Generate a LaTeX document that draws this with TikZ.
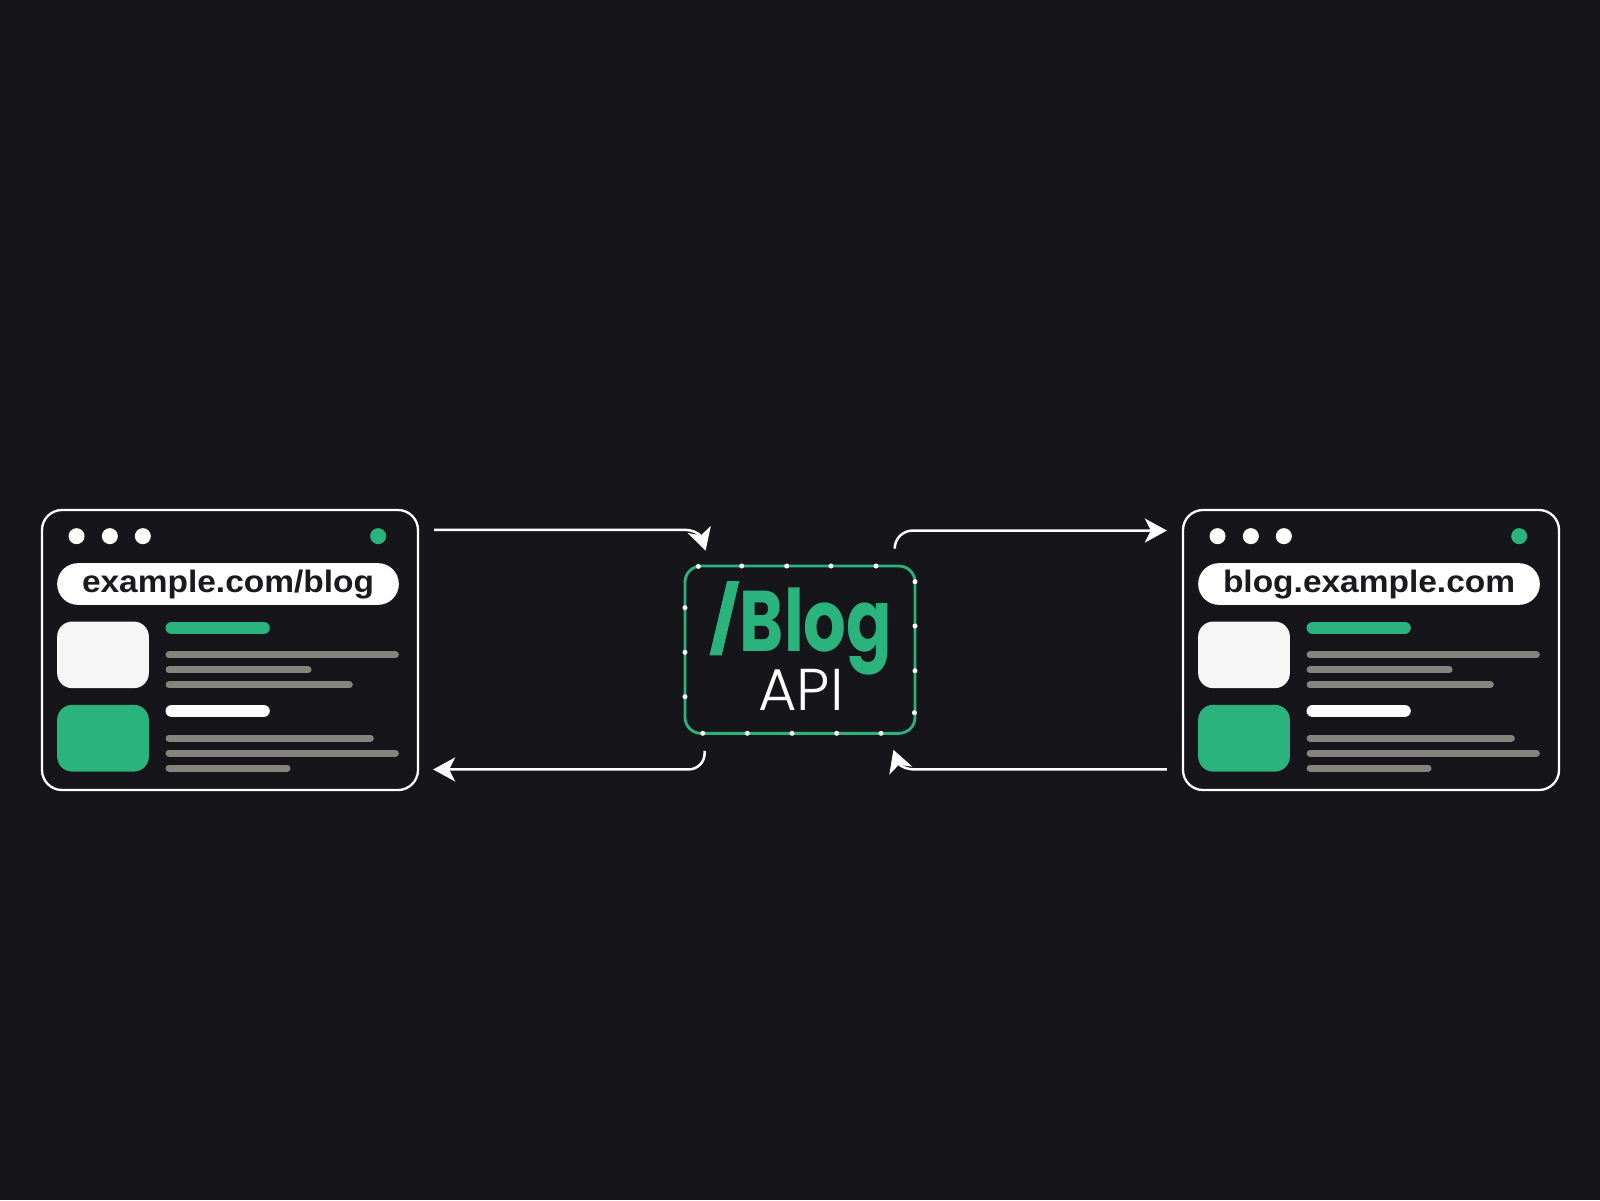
\documentclass[tikz,border=0pt]{standalone}
\usepackage{fontspec}
\usetikzlibrary{arrows.meta,calc,bending}
\setmainfont{Liberation Sans}
\newfontfamily\urlfont{Liberation Sans}
\newfontfamily\blogfont{Poppins}
\newfontfamily\slashfont[FakeBold=2.5]{Poppins}
\IfFontExistsTF{Poppins Light}{\newfontfamily\apifont{Poppins Light}}{\newfontfamily\apifont{Poppins}}
\definecolor{bg}{HTML}{16161A}
\definecolor{brandgreen}{HTML}{2BB37D}
\definecolor{linegray}{HTML}{85847E}
\definecolor{paper}{HTML}{F7F7F7}
\definecolor{ink}{HTML}{1A1A1E}
\tikzset{
  frame/.style={draw=white, line width=2.3pt, rounded corners=20pt, fill=bg, inner sep=0pt},
  apibox/.style={draw=brandgreen, line width=2.8pt, rounded corners=16pt, inner sep=0pt},
  bdot/.style={circle, fill=white, inner sep=0pt, minimum size=5pt},
  flow/.style={draw=white, line width=2.5pt, -{Stealth[length=22pt,width=24pt,inset=6pt]}},
  gline/.style={draw=linegray, line width=7pt, line cap=round},
  urltext/.style={font=\urlfont\bfseries\fontsize{31}{31}\selectfont, text=ink, inner sep=0pt}
}
\newcommand{\mybrowser}[3]{%
  % #1 node name, #2 center x, #3 url
  \node[frame, minimum width=376pt, minimum height=280pt] (#1) at (#2,650) {};
  \begin{scope}[shift={($(#1.north west)$)}]
    \fill[white] (35.7,27.3) circle (8);
    \fill[white] (69,27.3) circle (8);
    \fill[white] (102,27.3) circle (8);
    \fill[brandgreen] (337.3,27.3) circle (8);
    \fill[white, rounded corners=20.8pt] (16.3,54.3) rectangle (358,96);
    \node[urltext] (#1url) at (187.2,76) {\scalebox{1.08}[1]{#3}};
    \fill[paper, rounded corners=15pt] (16.3,112.7) rectangle (108,179.3);
    \fill[brandgreen, rounded corners=15pt] (16.3,196) rectangle (108,262.7);
    \draw[brandgreen, line width=12.7pt, line cap=round] (131,119) -- (222.6,119);
    \draw[gline] (128.2,146) -- (354.5,146);
    \draw[gline] (128.2,161) -- (267.2,161);
    \draw[gline] (128.2,176) -- (308.5,176);
    \draw[white, line width=12.7pt, line cap=round] (131,202) -- (222.6,202);
    \draw[gline] (128.2,229.3) -- (329.5,229.3);
    \draw[gline] (128.2,244.3) -- (354.5,244.3);
    \draw[gline] (128.2,259.3) -- (246.2,259.3);
  \end{scope}
}
\begin{document}
\begin{tikzpicture}[x=1pt,y=-1pt]
\fill[bg] (0,0) rectangle (1600,1200);
\useasboundingbox (0,0) rectangle (1600,1200);

\mybrowser{L}{230}{example.com/blog}
\mybrowser{R}{1371}{blog.example.com}

% center API box
\node[apibox, minimum width=230pt, minimum height=167.3pt] (api) at (800,649.7) {};
\foreach \px in {741.7,786.7,831,876} \node[bdot] at (\px,566) {};
\node[bdot] at (698.3,566.4) {};
\foreach \px in {702.7,747.3,792,836.7,881} \node[bdot] at (\px,733.3) {};
\foreach \py in {581.7,626,670.7} \node[bdot] at (915,\py) {};
\node[bdot] at (914.4,712.7) {};
\foreach \py in {607.7,652.3,696.7} \node[bdot] at (685,\py) {};

\node[anchor=base, text=brandgreen, inner sep=0pt, font=\blogfont\bfseries\fontsize{86}{86}\selectfont] (blog) at (801,651.7) {\raisebox{9pt}{\slashfont\bfseries\fontsize{64}{64}\selectfont/}\hspace{1pt}\scalebox{0.78}[1]{Blog}};
\node[anchor=base, text=white, inner sep=0pt, font=\apifont\fontsize{59}{59}\selectfont] (apitext) at (801,710) {API};

% connectors
\coordinate (a1s) at ($(L.north east)+(15,21)$);
\coordinate (a1e) at ($(api.north west)+(22,-14)$);
\coordinate (a1m) at (a1s -| a1e);
\coordinate (a2s) at ($(api.south west)+(21,16)$);
\coordinate (a2e) at ($(L.south east)+(14,-21.7)$);
\coordinate (a3s) at ($(api.north east)+(-21.7,-16)$);
\coordinate (a3e) at ($(R.north west)+(-15,21.7)$);
\coordinate (a4s) at ($(R.south west)+(-15,-21.7)$);
\coordinate (a4e) at ($(api.south east)+(-23,15)$);
\coordinate (a4m) at (a4s -| a4e);

\draw[flow] (a1s) -- ($(a1m)+(-22,0)$) .. controls ($(a1m)+(-8,0)$) and ($(a1m)+(0,7)$) .. (a1e);
\draw[flow, rounded corners=16pt] (a2s) |- (a2e);
\draw[flow, rounded corners=18pt] (a3s) |- (a3e);
\draw[flow] (a4s) -- ($(a4m)+(22,0)$) .. controls ($(a4m)+(8,0)$) and ($(a4m)+(0,-7)$) .. (a4e);
\end{tikzpicture}
\end{document}
